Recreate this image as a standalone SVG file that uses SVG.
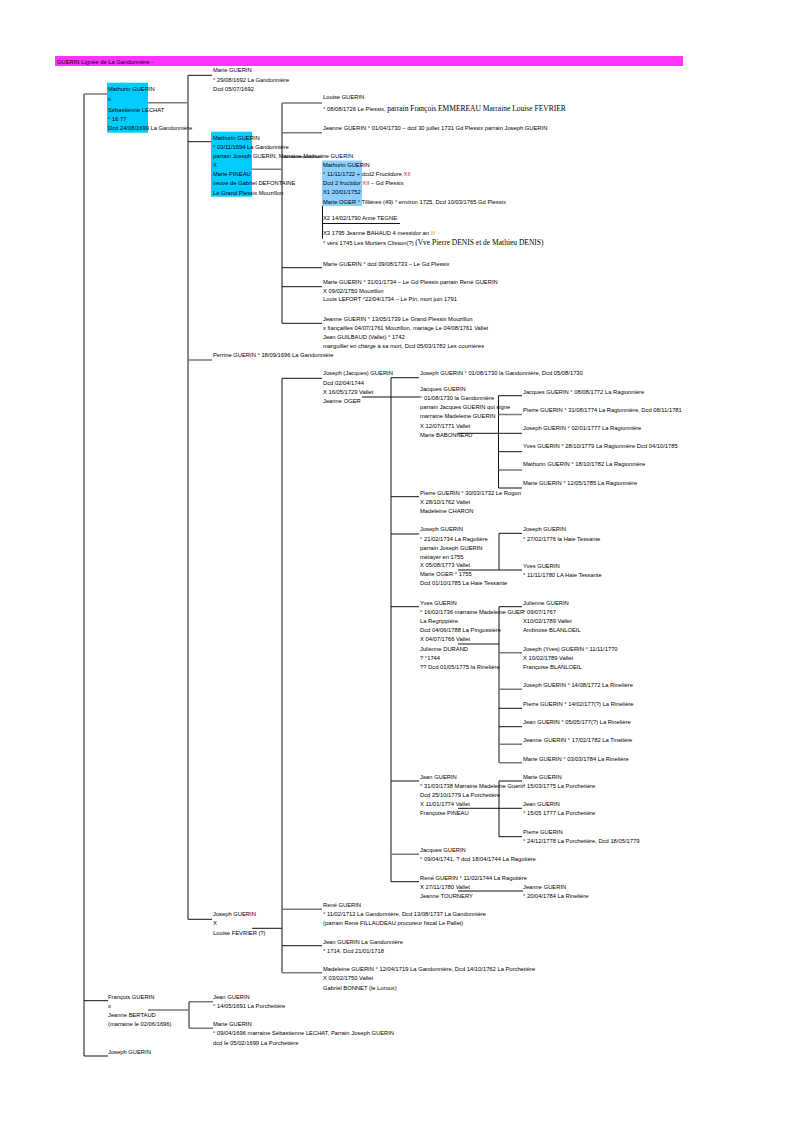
<svg xmlns="http://www.w3.org/2000/svg" width="794" height="1123" viewBox="0 0 794 1123">
<style>
text{font-family:"Liberation Sans",Arial,sans-serif;font-size:5.8px;fill:#000}
.s{font-family:"Liberation Serif","Times New Roman",serif;font-size:7.5px}
.k{stroke:#111;stroke-width:1;fill:none}
.g{stroke:#7a7a7a;stroke-width:1.6;fill:none}
.c1{fill:#00ccff}
.c2{fill:#8ccfff}
.r{fill:#d42020}
.o{fill:#f0a000}
</style>
<rect width="794" height="1123" fill="#fff"/>
<g id="header">
<rect x="55" y="56" width="628" height="10" fill="#ff33ff"/>
<text x="57" y="63.5">GUERIN  Lignée de La Gandonnière -</text>
</g>
<g id="connectors">
<path class="k" d="M84 94V1056M188 75.3V919.3M282 103V323.3M282 378.3V972.7M391 377.7V881.7M498.5 395.7V488M499 533.3V570M499 606.7V762.7M499 781V836.7M189 1001.7V1028.3"/>
<path class="g" d="M84 94H108M148 102.7H188M252 169.3H282M188 360H212M282 103H322M282 132.7H322M282 157H322M282 909.3H322M282 972.7H322M391 854.3H419M498.5 414.5H522M498.5 470H522M499 652.7H522M499 689.3H522M499 744.3H522M499 762.7H522M148 1010H189M189 1001.7H213M189 1028.3H213"/>
<path class="k" d="M188 75.3H212M188 141.7H212M188 919.3H212M282 267.7H322M282 286.7H322M282 323.3H322M282 378.3H322M252 928.3H282M282 945.7H322M362 397H420M391 377.7H419M391 496.7H419M391 534H419M391 606.7H419M391 781H419M391 881.7H419M458 433.3H498.5M458 570H499M458 644H499M458 808.3H499M458 891H523M498.5 395.7H522M498.5 433.3H522M498.5 451.7H522M498.5 488H522M499 533.3H522M499 570H522M499 606.7H522M499 708.3H522M499 726.7H522M499 781H522M499 808.3H522M499 836.7H522M84 1000.7H108M84 1056H108"/>
<path class="k" d="M322.5 188.7V238.7M322.5 223.5H400"/>
</g>
<g id="n-mathurin1">
<rect class="c1" x="107" y="82.7" width="41" height="50"/>
<text x="108" y="90.7">Mathurin GUERIN</text>
<text x="108" y="100.7">x</text>
<text x="108" y="111.7">Sébastienne LECHAT</text>
<text x="108" y="120.7">° 16 77</text>
<text x="108" y="130">Dcd 24/08/1699 La Gandonnière</text>
</g>
<g id="n-marie-1692">
<text x="213" y="72.3">Marie GUERIN</text>
<text x="213" y="81.7">° 29/08/1692 La Gandonnière</text>
<text x="213" y="90.7">Dcd 05/07/1692</text>
</g>
<g id="n-mathurin2">
<rect class="c1" x="211" y="131.7" width="41" height="65"/>
<text x="213" y="139.7">Mathurin GUERIN</text>
<text x="213" y="149.3">° 03/11/1694 La Gandonnière</text>
<text x="213" y="158.3">parrain Joseph GUERIN, Marraine Mathurine GUERIN</text>
<text x="213" y="167">X</text>
<text x="213" y="176">Marie PINEAU</text>
<text x="213" y="184.7">veuve de Gabriel DEFONTAINE</text>
<text x="213" y="195">Le Grand Plessix Mouzillon</text>
</g>
<g id="n-louise">
<text x="323" y="99.3">Louise GUERIN</text>
<text x="323" y="111.3">° 08/08/1726 Le Plessix, <tspan class="s">parrain François EMMEREAU Marraine Louise FEVRIER</tspan></text>
</g>
<g id="n-jeanne-1730">
<text x="323" y="129.7">Jeanne GUERIN ° 01/04/1730 – dcd 30 juillet 1731 Gd Plessix parrain Joseph GUERIN</text>
</g>
<g id="n-mathurin3">
<rect class="c2" x="322" y="160.5" width="40" height="45.5"/>
<text x="323" y="167">Mathurin GUERIN</text>
<text x="323" y="176.3">° 11/11/1722 + dcd2 Fructidore <tspan class="r">XII</tspan></text>
<text x="323" y="185.3">Dcd 2 fructidor <tspan class="r">XII</tspan> – Gd Plessix</text>
<text x="323" y="194.3">X1  20/01/1752</text>
<text x="323" y="204.3">Marie OGER ° Tillières (49) ° environ 1725, Dcd 10/03/1765 Gd Plessix</text>
<text x="323" y="220.3">X2  14/02/1790  Anne TEGNE</text>
<text x="323" y="235.3">X3 1795 Jeanne BAHAUD 4 messidor an <tspan class="o">III</tspan></text>
<text x="323" y="245.3">° vers 1745 Les Mortiers Clisson(?) <tspan class="s">(Vve Pierre DENIS et de Mathieu DENIS)</tspan></text>
</g>
<g id="n-marie-1733">
<text x="323" y="266.3">Marie GUERIN °  dcd 09/08/1733 – Le Gd Plessix</text>
</g>
<g id="n-marie-1734">
<text x="323" y="283.7">Marie GUERIN ° 31/01/1734 – Le Gd Plessix parrain René GUERIN</text>
<text x="323" y="292.7">X 09/02/1750 Mouzillon</text>
<text x="323" y="301.3">Louis LEFORT °22/04/1734 – Le Pin, mort juin 1791</text>
</g>
<g id="n-jeanne-1739">
<text x="323" y="321">Jeanne GUERIN ° 13/05/1739 Le Grand Plessix Mouzillon</text>
<text x="323" y="329.7">x fiançailles 04/07/1761 Mouzillon, mariage Le 04/08/1761 Vallet</text>
<text x="323" y="338.7">Jean GUILBAUD (Vallet) ° 1742</text>
<text x="323" y="347.7">marguiller en charge à sa mort, Dcd 05/03/1782 Les courrières</text>
</g>
<g id="n-perrine">
<text x="213" y="357">Perrine GUERIN ° 18/09/1696 La Gandonnière</text>
</g>
<g id="n-joseph-jacques">
<text x="323" y="375.3">Joseph  (Jacques) GUERIN</text>
<text x="323" y="384.7">Dcd 02/04/1744</text>
<text x="323" y="393.7">X 16/05/1729 Vallet</text>
<text x="323" y="403">Jeanne OGER</text>
</g>
<g id="n-joseph-1730">
<text x="420" y="375.3">Joseph GUERIN ° 01/08/1730 la Gandonnière, Dcd 05/08/1730</text>
</g>
<g id="n-jacques-1730">
<text x="420" y="390.5">Jacques GUERIN</text>
<text x="420" y="400">° 01/08/1730 la Gandonnière</text>
<text x="420" y="409">parrain Jacques GUERIN qui signe</text>
<text x="420" y="418">marraine Madeleine GUERIN</text>
<text x="420" y="428">X 12/07/1771 Vallet</text>
<text x="420" y="437">Marie BABONNEAU</text>
</g>
<g id="n-jacques-children">
<text x="523" y="394.3">Jacques GUERIN ° 08/08/1772 La Ragionnière</text>
<text x="523" y="412">Pierre GUERIN ° 31/08/1774 La Ragionnière, Dcd 08/11/1781</text>
<text x="523" y="430.3">Joseph GUERIN ° 02/01/1777 La Ragionnière</text>
<text x="523" y="448">Yves GUERIN ° 28/10/1779 La Ragionnière Dcd 04/10/1785</text>
<text x="523" y="466.3">Mathurin GUERIN ° 18/10/1782 La Ragionnière</text>
<text x="523" y="484.7">Marie GUERIN ° 12/05/1785 La Ragionnière</text>
</g>
<g id="n-pierre-1732">
<text x="420" y="495.3">Pierre GUERIN ° 30/03/1732 Le Rogon</text>
<text x="420" y="504.3">X 28/10/1762 Vallet</text>
<text x="420" y="513">Madeleine CHARON</text>
</g>
<g id="n-joseph-1734">
<text x="420" y="531.3">Joseph GUERIN</text>
<text x="420" y="541.3">° 21/02/1734 La Ragotière</text>
<text x="420" y="550.3">parrain Joseph GUERIN</text>
<text x="420" y="558.7">métayer en 1755</text>
<text x="420" y="567">X 05/08/1773 Vallet</text>
<text x="420" y="576.3">Marie OGER ° 1755</text>
<text x="420" y="585.3">Dcd 01/10/1785 La Haie Tessante</text>
</g>
<g id="n-joseph-children">
<text x="523" y="531.3">Joseph GUERIN</text>
<text x="523" y="541.3">° 27/02/1776 la Haie Tessante</text>
<text x="523" y="567.7">Yves GUERIN</text>
<text x="523" y="577">° 11/11/1780 LA Haie Tessante</text>
</g>
<g id="n-yves-1736">
<text x="420" y="605.3">Yves GUERIN</text>
<text x="420" y="614.3">° 16/02/1736 marraine Madeleine GUER</text>
<text x="420" y="623">La Regrippière</text>
<text x="420" y="632">Dcd 04/06/1788 La Pingossière</text>
<text x="420" y="641.3">X 04/07/1766 Vallet</text>
<text x="420" y="651">Julienne DURAND</text>
<text x="420" y="659.7">? °1744</text>
<text x="420" y="668.7">?? Dcd 01/05/1775 la Rinelière</text>
</g>
<g id="n-yves-children">
<text x="523" y="605.3">Julienne GUERIN</text>
<text x="523" y="614.3">° 09/07/1767</text>
<text x="523" y="623">X10/02/1789 Vallet</text>
<text x="523" y="632">Ambroise BLANLOEIL</text>
<text x="523" y="651">Joseph (Yves) GUERIN ° 11/11/1770</text>
<text x="523" y="659.7">X 10/02/1789 Vallet</text>
<text x="523" y="668.7">Françoise BLANLOEIL</text>
<text x="523" y="687">Joseph GUERIN ° 14/08/1772 La Rinelière</text>
<text x="523" y="706.3">Pierre GUERIN ° 14/02/177(?) La Rinelière</text>
<text x="523" y="724.3">Jean GUERIN ° 05/05/177(?) La Rinelière</text>
<text x="523" y="742">Jeanne GUERIN ° 17/02/1782 La Tinelière</text>
<text x="523" y="761">Marie GUERIN ° 03/03/1784 La Rinelière</text>
</g>
<g id="n-jean-1738">
<text x="420" y="779">Jean GUERIN</text>
<text x="420" y="788.3">° 31/03/1738 Marraine Madeleine Guerin</text>
<text x="420" y="797">Dcd 25/10/1779 La Porchetière</text>
<text x="420" y="805.7">X 11/01/1774 Vallet</text>
<text x="420" y="814.7">Françoise PINEAU</text>
</g>
<g id="n-jean-children">
<text x="523" y="779">Marie GUERIN</text>
<text x="523" y="788.3">° 15/03/1775 La Porchetière</text>
<text x="523" y="806">Jean GUERIN</text>
<text x="523" y="815.3">° 15/05 1777 La Porchetière</text>
<text x="523" y="833.7">Pierre GUERIN</text>
<text x="523" y="843">° 24/12/1778 La Porchetière, Dcd 18/05/1779</text>
</g>
<g id="n-jacques-1741">
<text x="420" y="852">Jacques GUERIN</text>
<text x="420" y="861.3">° 09/04/1741, ? dcd 18/04/1744 La Ragotière</text>
</g>
<g id="n-rene-1744">
<text x="420" y="879.7">René GUERIN ° 11/02/1744 La Ragotière</text>
<text x="420" y="888.7">X 27/11/1780 Vallet</text>
<text x="420" y="898">Jeanne TOURNERY</text>
</g>
<g id="n-jeanne-1784">
<text x="523" y="888.7">Jeanne GUERIN</text>
<text x="523" y="898">° 20/04/1784 La Rinelière</text>
</g>
<g id="n-rene-1712">
<text x="323" y="907">René GUERIN</text>
<text x="323" y="916.3">° 11/02/1712 La Gandonnière, Dcd 13/08/1737 La Gandonnière</text>
<text x="323" y="925.3">(parrain René FILLAUDEAU procureur fiscal Le Pallet)</text>
</g>
<g id="n-joseph-l2">
<text x="213" y="916">Joseph GUERIN</text>
<text x="213" y="924.7">X</text>
<text x="213" y="934.7">Louise FEVRIER (?)</text>
</g>
<g id="n-jean-1714">
<text x="323" y="944.3">Jean GUERIN La Gandonnière</text>
<text x="323" y="953">° 1714, Dcd 21/01/1718</text>
</g>
<g id="n-madeleine">
<text x="323" y="971.3">Madeleine GUERIN ° 12/04/1719 La Gandonnière, Dcd 14/10/1762 La Porchetière</text>
<text x="323" y="980.3">X 03/02/1750 Vallet</text>
<text x="323" y="990.3">Gabriel BONNET (le Loroux)</text>
</g>
<g id="n-francois">
<text x="108" y="999.3">François GUERIN</text>
<text x="108" y="1008">x</text>
<text x="108" y="1017">Jeanne BERTAUD</text>
<text x="108" y="1026">(marraine le 02/06/1696)</text>
</g>
<g id="n-jean-1691">
<text x="213" y="999.3">Jean GUERIN</text>
<text x="213" y="1008">° 14/05/1691 La Porchetière</text>
</g>
<g id="n-marie-1696">
<text x="213" y="1026">Marie GUERIN</text>
<text x="213" y="1035.3">° 09/04/1696 marraine Sébastienne LECHAT,  Parrain Joseph GUERIN</text>
<text x="213" y="1044.7">dcd le 05/02/1699 La Porchetière</text>
</g>
<g id="n-joseph-l1">
<text x="108" y="1054.3">Joseph GUERIN</text>
</g>
</svg>
